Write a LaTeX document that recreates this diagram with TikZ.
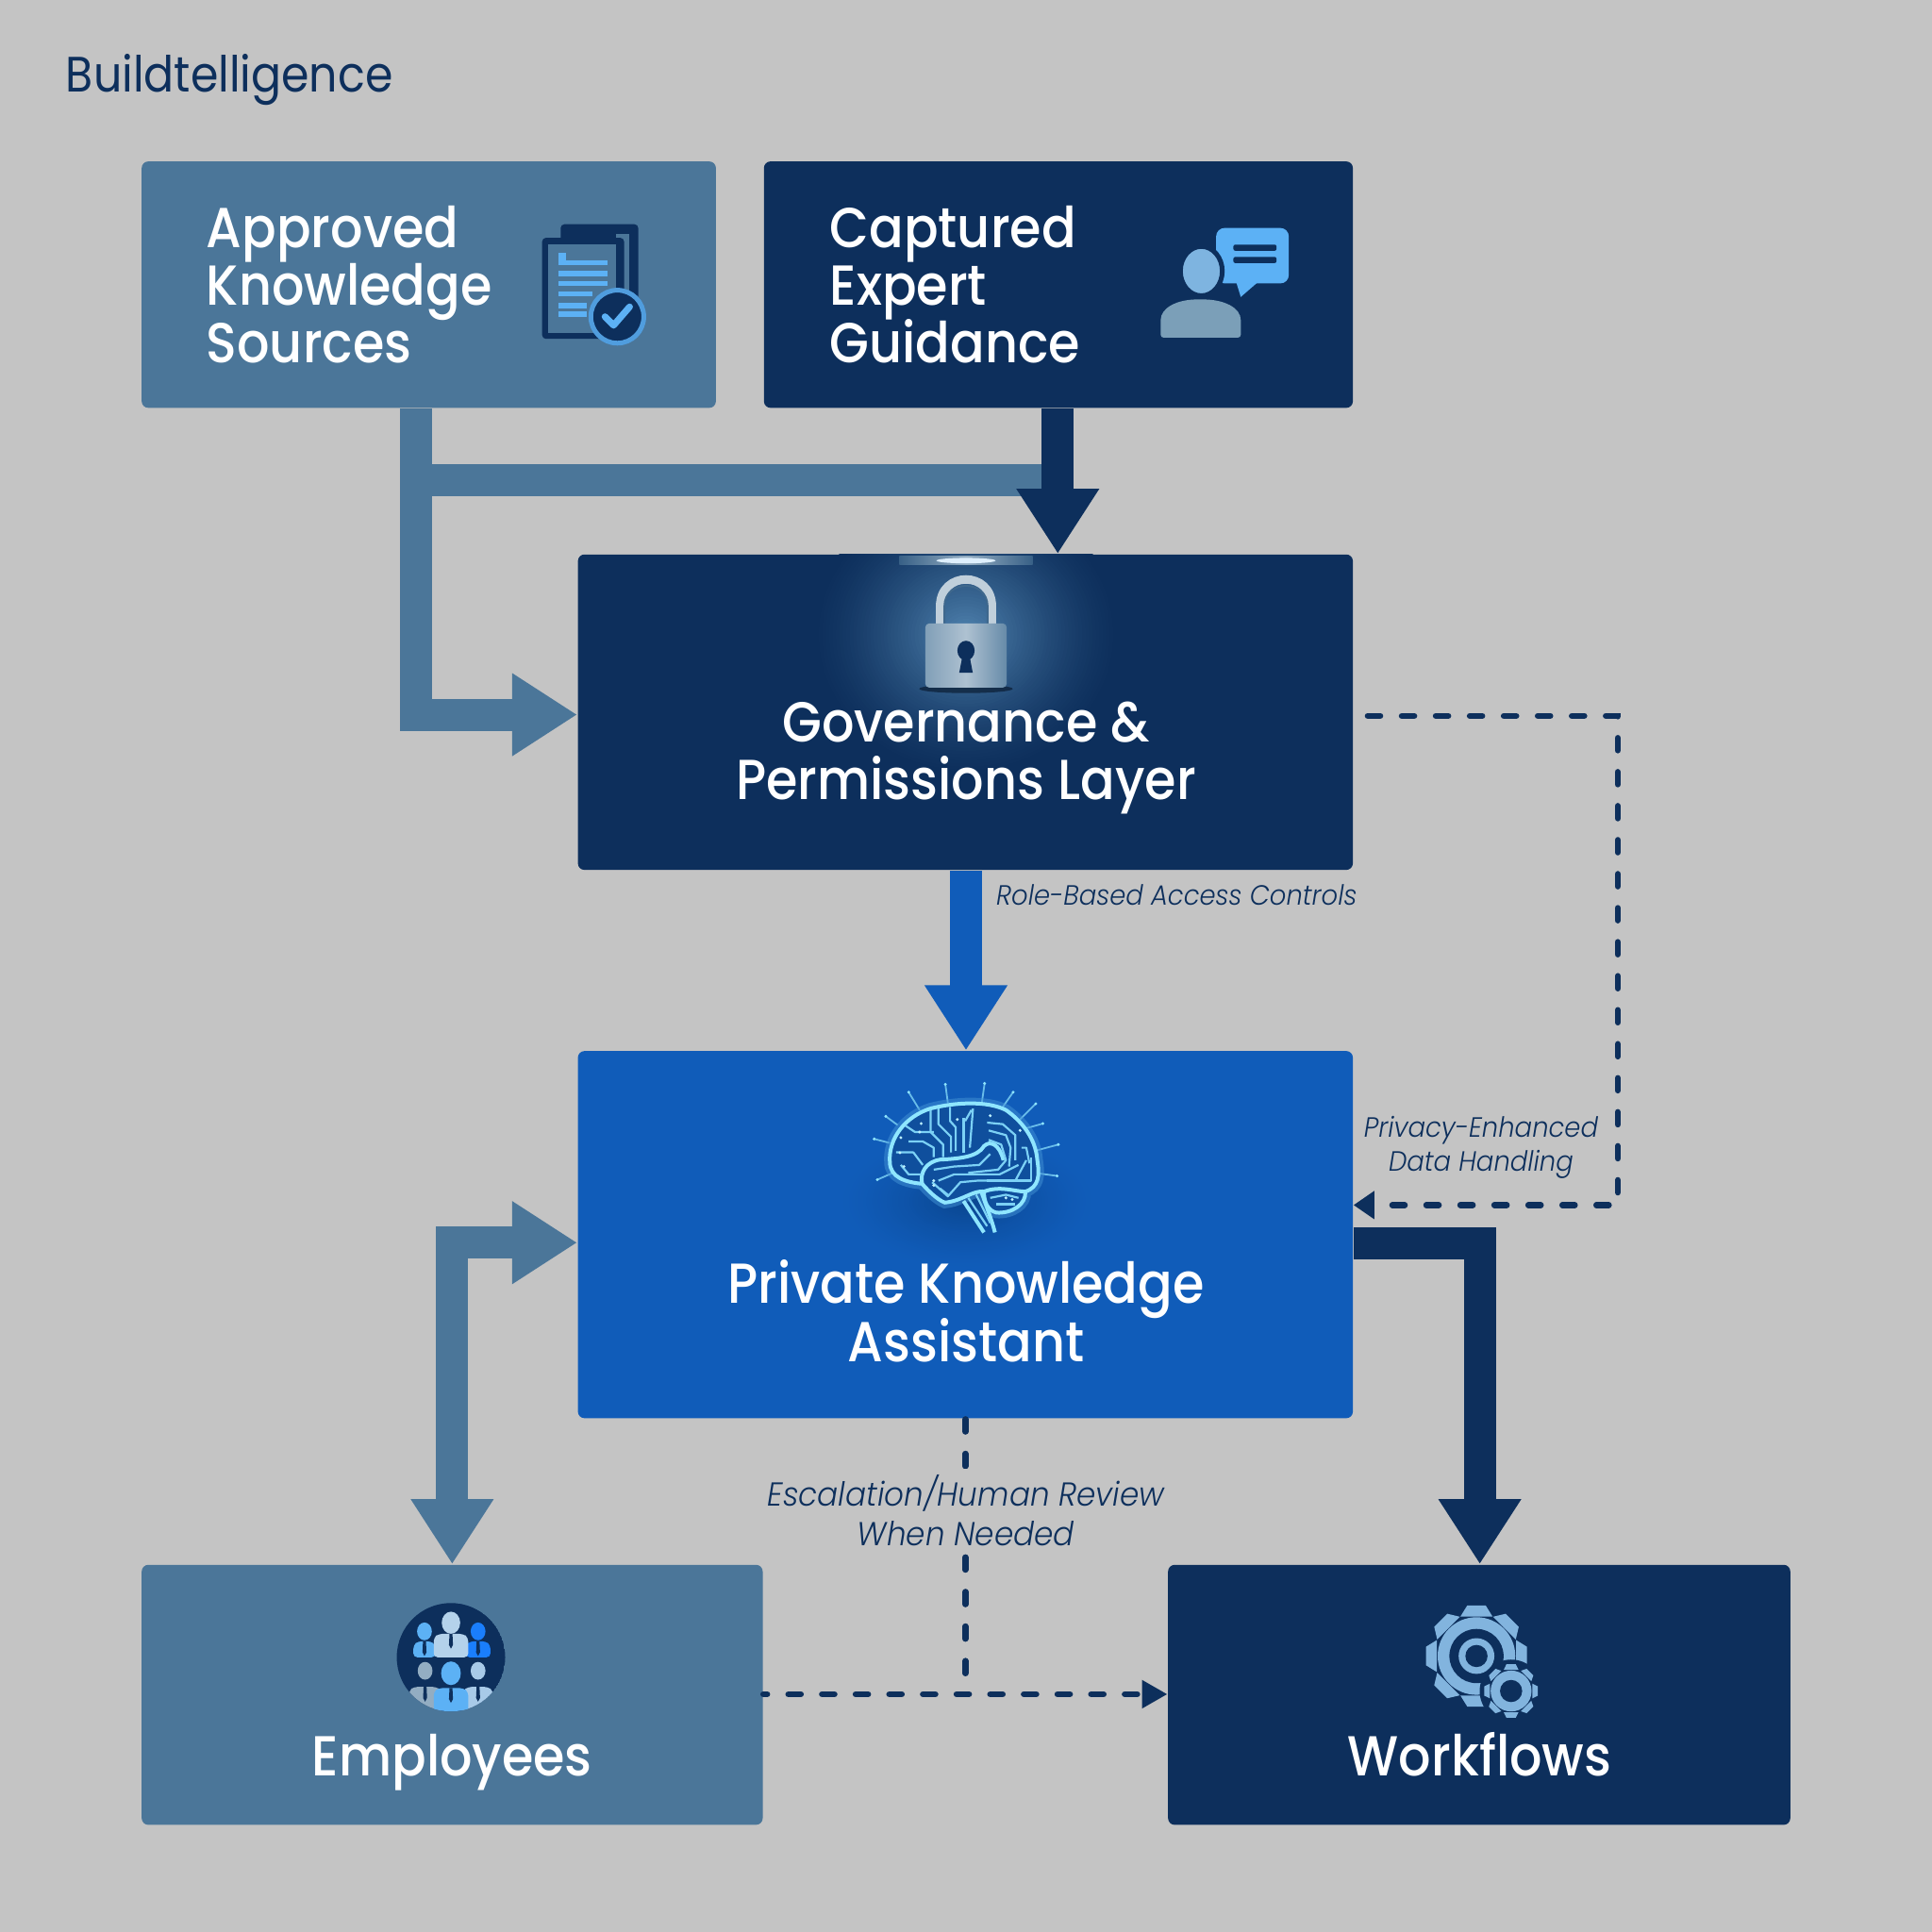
\documentclass[tikz,border=0pt]{standalone}
\usepackage{fontspec}
\usetikzlibrary{arrows.meta,calc}
\setmainfont{Poppins}
\newfontfamily\hdfont{Poppins Medium}[FakeStretch=0.905]
\newfontfamily\ttlfont{Poppins}[FakeStretch=0.9]
\newfontfamily\lblfont{Poppins Light}[FakeStretch=0.93,ItalicFont={Poppins Light Italic}]
\definecolor{bgc}{HTML}{C4C4C4}
\definecolor{navyc}{HTML}{0D2F5C}
\definecolor{steelc}{HTML}{4B7699}
\definecolor{bluec}{HTML}{105CB9}
\definecolor{lightc}{HTML}{5CB1F5}
\definecolor{gearc}{HTML}{82B4DE}
\definecolor{glowc}{HTML}{8FE6FF}
\definecolor{glowin}{HTML}{4F82AE}
\definecolor{brainshadow}{HTML}{0A4690}
\tikzset{
  box/.style={rounded corners=0.07cm,inner sep=0pt,text=white,align=center},
  head/.style={font=\hdfont\fontsize{17}{17.45}\selectfont,text=white,inner sep=0pt,execute at begin node={\lineskiplimit=-100pt}},
  lbl/.style={font=\lblfont\itshape\fontsize{8.4}{10.2}\selectfont,text=navyc,align=center,inner sep=0pt},
  bigarrow/.style={line width=0.34cm,-{Triangle[length=0.69cm,width=0.83cm]}},
  dashline/.style={navyc,line width=0.065cm,line cap=round,dash pattern=on 0.131cm off 0.2295cm},
  trace/.style={glowc!85!bluec,line width=0.022cm,line join=round},
  lobe/.style={glowc,line width=0.04cm,line join=round},
}
\newcommand{\softglow}[6]{% x,y,rx,ry,inner colour,outer colour
  \foreach \i in {0,...,44}{
    \pgfmathsetmacro{\mixv}{100*(\i/44)^1.4}
    \pgfmathsetmacro{\rfac}{1-\i/45}
    \fill[#5!\mixv!#6] (#1,#2) ellipse ({#3*\rfac} and {#4*\rfac});
  }
}
\newcommand{\gearshape}[7]{% x,y,R,root,n,basehalf,tophalf
  \fill[gearc] (#1,#2) circle (#4);
  \foreach \a in {1,...,#5}{
    \fill[gearc,shift={(#1,#2)},rotate=\a*360/#5]
      (-#6,-#4-0.6) -- (-#7,-#3) -- (#7,-#3) -- (#6,-#4-0.6) -- cycle;
  }
}
\newcommand{\personicon}[7]{% x, headY, headrx, bodyhalf, bodytop, bodybottom, colour
  \fill[#7] (#1,#2) ellipse ({#3} and {#3*1.2});
  \fill[#7,rounded corners=0.04cm] ({#1-#4},#6) -- ({#1-#4},{#5+3}) -- ({#1-#4+4},#5) -- ({#1+#4-4},#5) -- ({#1+#4},{#5+3}) -- ({#1+#4},#6) -- cycle;
  \fill[navyc] ({#1-1.2},#5) -- ({#1+1.2},#5) -- ({#1+1.6},{#5+9}) -- (#1,{#5+12}) -- ({#1-1.6},{#5+9}) -- cycle;
}
\begin{document}
\begin{tikzpicture}[x=0.0130612cm,y=-0.0130612cm]
\useasboundingbox (0,0) rectangle (1568,1568);
\fill[bgc] (0,0) rectangle (1568,1568);

\node[anchor=west,text=navyc,inner sep=0pt,font=\ttlfont\fontsize{15}{15}\selectfont] (title) at (53,65) {Buildtelligence};

% boxes
\node[box,fill=steelc,minimum width=6.087cm,minimum height=2.612cm] (appr) at (348,231) {};
\node[box,fill=navyc,minimum width=6.243cm,minimum height=2.612cm] (capt) at (859,231) {};
\node[box,fill=navyc,minimum width=8.215cm,minimum height=3.344cm] (gov) at (783.5,578) {};
\node[box,fill=bluec,minimum width=8.215cm,minimum height=3.892cm] (pka) at (783.5,1002) {};
\node[box,fill=steelc,minimum width=6.583cm,minimum height=2.756cm] (emp) at (367,1375.5) {};
\node[box,fill=navyc,minimum width=6.596cm,minimum height=2.756cm] (wkf) at (1200.5,1375.5) {};

% lock glow and lamp
\begin{scope}
  \clip (gov.south west) rectangle (gov.north east);
  \softglow{784}{515}{125}{115}{glowin}{navyc}
  \shade[left color=steelc!70!navyc,right color=steelc!70!navyc,middle color=steelc!60!white] (730,451) rectangle (838,458);
  \fill[white!80!lightc] (784,455) ellipse (24 and 2.2);
\end{scope}
% lock
\fill[black!60!navyc,opacity=.6] (784,559) ellipse (38 and 3.5);
\draw[line width=0.09cm,color=steelc!35!white] (763,508) -- (763,492) .. controls (763,463) and (805,463) .. (805,492) -- (805,508);
\draw[line width=0.02cm,color=steelc!80!navyc] (766.5,508) -- (766.5,492) .. controls (766.5,470) and (801.5,470) .. (801.5,492) -- (801.5,508);
\shade[rounded corners=0.04cm,left color=steelc!70!white,right color=steelc!85!white,middle color=steelc!45!white] (751,506) rectangle (817,558);
\fill[navyc] (784,528) ellipse (7 and 8);
\fill[navyc] (781,533) -- (787,533) -- (789.5,546) -- (778.5,546) -- cycle;

% brain
\softglow{785}{975}{105}{55}{brainshadow}{bluec}
\begin{scope}[shift={(673.8,857.6)},x=0.003333cm,y=-0.003333cm]
  \foreach \px/\py/\qx/\qy in {285/170/250/113,215/218/177/190,190/275/140/262,200/370/150/392,375/148/367/88,483/148/492/85,548/163/583/113,605/200/655/150,625/228/678/213,660/298/727/280,665/372/723/380}{
    \draw[glowc!70!bluec,line width=0.018cm] (\px,\py) -- (\qx,\qy);
    \fill[glowc] (\qx,\qy) circle (5);
  }
  \def\brainouter{(190,335) .. controls (185,260) and (240,190) .. (320,165) .. controls (400,145) and (500,140) .. (560,170) .. controls (610,205) and (655,260) .. (660,330) .. controls (668,380) and (665,415) .. (622,430) .. controls (625,470) and (580,500) .. (530,497) .. controls (500,490) and (490,460) .. (490,430) .. controls (455,425) and (420,460) .. (365,465) .. controls (340,455) and (310,425) .. (293,405) .. controls (240,400) and (190,385) .. (190,335) -- cycle}
  \draw[glowc!40!bluec,line width=0.12cm,opacity=.5] \brainouter;
  \fill[bluec!70!navyc] \brainouter;
  \draw[lobe] \brainouter;
  \draw[lobe] (293,405) .. controls (285,370) and (305,335) .. (350,328) .. controls (410,325) and (470,320) .. (490,285) .. controls (510,265) and (540,280) .. (552,330);
  \draw[lobe] (425,460) -- (490,560);
  \draw[lobe] (480,425) .. controls (495,470) and (515,520) .. (525,560);
  \draw[lobe] (490,430) .. controls (540,410) and (590,430) .. (622,430);
  \foreach \pth in {
    {(320,170)--(320,240)--(360,280)--(360,320)},
    {(345,165)--(345,215)--(385,255)--(385,305)},
    {(382,160)--(382,205)--(400,225)--(400,300)},
    {(425,195)--(425,305)},
    {(450,170)--(430,205)},
    {(455,165)--(445,290)},
    {(240,220)--(270,240)--(330,240)},
    {(250,270)--(295,270)--(330,290)--(330,320)},
    {(210,305)--(265,305)--(295,345)},
    {(225,345)--(250,375)--(290,375)},
    {(500,210)--(550,215)--(590,250)--(590,330)},
    {(505,235)--(560,250)--(575,290)--(570,350)},
    {(505,265)--(545,280)--(560,330)--(535,360)--(440,370)},
    {(330,360)--(395,350)--(475,345)--(510,310)},
    {(345,395)--(395,375)--(540,375)--(600,345)},
    {(325,400)--(375,445)--(415,400)--(470,395)--(590,395)--(625,330)},
    {(350,420)--(375,440)},
    {(500,395)--(640,395)--(640,320)},
    {(610,290)--(625,290)--(635,340)},
    {(440,450)--(500,540)},
    {(465,440)--(510,530)},
    {(510,450)--(560,440)--(600,450)},
    {(530,470)--(590,470)}
  }{\draw[trace] \pth;}
  \foreach \dx/\dy in {290/213,225/258,222/306,285/240,405/200,510/188,605/235,235/350,330/395,560/450,580/455,330/410}{\fill[white!40!glowc] (\dx,\dy) circle (5);}
\end{scope}

% document icon
\fill[navyc,rounded corners=0.04cm] (455,182) rectangle (518,265);
\fill[steelc] (500,190) rectangle (511,240);
\fill[navyc,rounded corners=0.04cm] (440,193) rectangle (506.5,275);
\fill[steelc] (445,198.5) rectangle (500,270);
\fill[lightc] (453,205) rectangle (459,215);
\foreach \yy/\xe in {213/493,222/493,230/493,238.5/481,248/476,255/476}{\fill[lightc] (453,\yy-2) rectangle (\xe,\yy+2);}
\fill[navyc,draw=lightc!85!navyc,line width=0.05cm] (501,257) circle (21.5);
\draw[lightc,line width=0.07cm,line join=round,line cap=round] (491,257) -- (498,264) -- (511,249);

% person and bubble icon
\fill[lightc,rounded corners=0.09cm] (987,185) rectangle (1046,230);
\fill[lightc] (1003,228) -- (1022,228) -- (1007,241) -- cycle;
\foreach \yy in {201,211}{\fill[navyc,rounded corners=0.02cm] (1001,\yy-2.5) rectangle (1036,\yy+2.5);}
\fill[gearc!90!lightc,draw=navyc,line width=0.05cm] (975,220) ellipse (17 and 20);
\definecolor{bodyc}{HTML}{7B9FB8}
\fill[bodyc,rounded corners=0.03cm] (942,274) -- (942,262) .. controls (942,250) and (955,243) .. (974,243) .. controls (994,243) and (1007,250) .. (1007,262) -- (1007,274) -- cycle;

% people icon
\begin{scope}
  \clip (366,1345) circle (44);
  \fill[navyc] (366,1345) circle (44);
  \personicon{344.5}{1324}{6}{9}{1332}{1345}{lightc}
  \personicon{388}{1324}{6}{10}{1332}{1345}{lightc!40!blue!70!cyan}
  \personicon{345}{1356}{6}{13}{1369}{1395}{steelc!60!white}
  \personicon{388}{1356}{6}{12}{1369}{1395}{gearc!70!white}
  \personicon{366}{1317}{7.5}{14}{1326}{1345}{gearc!60!white}
  \personicon{366}{1358}{8}{14}{1370}{1395}{lightc}
\end{scope}

% gears
\gearshape{1198.3}{1344}{41}{31.5}{8}{13}{7.5}
\fill[navyc] (1198.3,1344) circle (22);
\fill[gearc] (1198.3,1344) circle (14.5);
\fill[navyc] (1198.3,1344) circle (9);
\fill[navyc] (1226.4,1372.4) circle (25.5);
\gearshape{1226.4}{1372.4}{21.7}{16.6}{8}{6}{3.8}
\fill[navyc] (1226.4,1372.4) circle (9);

% text
\node[head,align=left,anchor=west] (t1) at (167,231) {Approved\\Knowledge\\Sources};
\node[head,align=left,anchor=west] (t2) at (673,231) {Captured\\Expert\\Guidance};
\node[head,align=center] (t3) at (784,615) {Governance \&\\Permissions Layer};
\node[head,align=center] (t4) at (784,1064) {Private Knowledge\\Assistant};
\node[head,anchor=base] (t5) at (367,1441) {Employees};
\node[head,anchor=base] (t6) at (1201,1441) {Workflows};

% solid connectors
\coordinate (a1) at (337.5,390);
\coordinate (a2) at (858.5,390);
\coordinate (a3) at (0,580);
\coordinate (b1) at (784,0);
\coordinate (c1) at (367,1008.5);
\coordinate (d1) at (1201,1009);
\draw[steelc,line width=0.34cm] (a1) -- (a2);
\draw[steelc,bigarrow] (a1 |- appr.south) -- (a1 |- a3) -- (gov.west |- a3);
\draw[navyc,bigarrow] (a2 |- capt.south) -- (a2 |- gov.north);
\draw[bluec,bigarrow] (b1 |- gov.south) -- (b1 |- pka.north);
\draw[steelc,line width=0.34cm,{Triangle[length=0.69cm,width=0.83cm]}-{Triangle[length=0.69cm,width=0.83cm]}] (pka.west |- c1) -- (c1) -- (c1 |- emp.north);
\draw[navyc,bigarrow] (pka.east |- d1) -- (d1) -- (d1 |- wkf.north);

% dashed connectors
\coordinate (e1) at (1313,581);
\coordinate (e2) at (1313,978);
\coordinate (f1) at (783.5,1375);
\coordinate (f2) at (783.5,1358);
\draw[dashline,dash phase=0.209cm,-{Triangle[length=0.22cm,width=0.285cm]}] (gov.east |- e1) -- (e1) -- (e2) -- (pka.east |- e2);
\draw[dashline,dash pattern=on 0.131cm off 0.235cm] (f2) -- (f1 |- pka.south);
\draw[dashline,dash pattern=on 0.131cm off 0.2256cm,dash phase=0.091cm,-{Triangle[length=0.27cm,width=0.285cm]}] (emp.east |- f1) -- (wkf.west |- f1);

% labels
\node[lbl,anchor=west] (l1) at (808,726) {Role-Based Access Controls};
\node[lbl] (l2) at (1202,931) {Privacy-Enhanced\\Data Handling};
\node[lbl,fill=bgc,inner sep=2pt,font=\lblfont\itshape\fontsize{10}{11.9}\selectfont] (l3) at (784,1226) {Escalation/Human Review\\When Needed};
\end{tikzpicture}
\end{document}
